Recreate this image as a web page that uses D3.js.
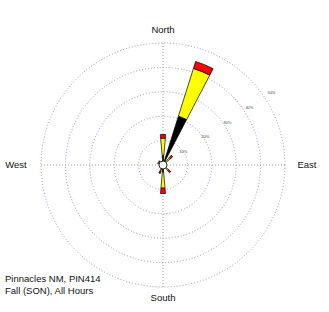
<!DOCTYPE html>
<html>
<head>
<meta charset="utf-8">
<script src="https://cdn.jsdelivr.net/npm/d3@7"></script>
<style>
  body { margin: 0; background: #fff; }
  text { font-family: Arial, "Liberation Sans", sans-serif; fill: #111; }
</style>
</head>
<body>
<div id="rose"></div>
<script>
// wind directions, clockwise from north
var directions = ["N","NNE","NE","ENE","E","ESE","SE","SSE","S","SSW","SW","WSW","W","WNW","NW","NNW"];

// frequency (%) of each speed class per direction
var slowClass = [4, 21, 1.5, 0.5, 0.3, 0.3, 1.5, 0.5, 3, 1.2, 0.5, 0.3, 0.3, 0.5, 0.8, 0.5];
var midClass  = [7, 20.5, 2.5, 0.5, 0.2, 0.3, 1.5, 0.5, 6.5, 1.5, 0.5, 0.2, 0.2, 1.5, 1.2, 0.5];
var fastClass = [1.5, 3, 1.2, 0.3, 0, 0, 1.2, 0.2, 2.2, 1, 0.2, 0, 0, 0.3, 0.3, 0.2];
var classColors = ["#000000", "#ffff00", "#ff0000"];

// ring labels
var ringTicks = [10, 20, 30, 40, 50];
var compassLabels = ["North", "East", "South", "West"];
var titleLines = ["Pinnacles NM, PIN414", "Fall (SON), All Hours"];

var width = 329, height = 312;
var cx = 163, cy = 165, outerR = 122;

var svg = d3.select("#rose").append("svg")
  .attr("width", width)
  .attr("height", height);

var g = svg.append("g")
  .attr("transform", "translate(" + cx + "," + cy + ")");

var r = d3.scaleLinear().domain([0, 50]).range([0, outerR]);

// axis cross
g.append("line").attr("x1", 0).attr("x2", 0).attr("y1", -outerR).attr("y2", outerR)
  .attr("stroke", "#9a9ab0").attr("stroke-dasharray", "1,2");
g.append("line").attr("y1", 0).attr("y2", 0).attr("x1", -outerR).attr("x2", outerR)
  .attr("stroke", "#9a9ab0").attr("stroke-dasharray", "1,2");

// rings
g.selectAll("circle.ring").data(ringTicks).enter().append("circle")
  .attr("class", "ring")
  .attr("r", function(d) { return r(d); })
  .attr("fill", "none")
  .attr("stroke", "#9898d8")
  .attr("stroke-dasharray", "1,2");

// ring labels along a diagonal
var labAngle = -34 * Math.PI / 180;
g.selectAll("text.tick").data(ringTicks).enter().append("text")
  .attr("class", "tick")
  .attr("x", function(d, i) { return (r(d) + i * 2.2) * Math.cos(labAngle); })
  .attr("y", function(d, i) { return (r(d) + i * 2.2) * Math.sin(labAngle) + 2; })
  .attr("text-anchor", "middle")
  .style("font-size", "4px")
  .style("fill", "#444")
  .text(function(d) { return d + "%"; });

// stack speed classes into petal segments
var segments = [];
directions.forEach(function(dir, i) {
  var vals = [slowClass[i], midClass[i], fastClass[i]];
  var base = 0;
  vals.forEach(function(v, k) {
    if (v > 0) segments.push({dir: i, from: base, to: base + v, k: k});
    base += v;
  });
});

var half = 5 * Math.PI / 180;
var arc = d3.arc()
  .innerRadius(function(d) { return r(d.from); })
  .outerRadius(function(d) { return r(d.to); })
  .startAngle(function(d) { return d.dir * Math.PI / 8 - half; })
  .endAngle(function(d) { return d.dir * Math.PI / 8 + half; });

g.selectAll("path.petal").data(segments).enter().append("path")
  .attr("class", "petal")
  .attr("d", arc)
  .attr("fill", function(d) { return classColors[d.k]; })
  .attr("stroke", "#000")
  .attr("stroke-width", 0.7);

// calms circle
g.append("circle").attr("r", 4)
  .attr("fill", "#fff").attr("stroke", "#000").attr("stroke-width", 0.8);

// compass labels
var compassPos = [[0, -132], [144, 3], [0, 136], [-147, 3]];
g.selectAll("text.compass").data(compassLabels).enter().append("text")
  .attr("class", "compass")
  .attr("x", function(d, i) { return compassPos[i][0]; })
  .attr("y", function(d, i) { return compassPos[i][1]; })
  .attr("text-anchor", "middle")
  .style("font-size", "9.5px")
  .text(function(d) { return d; });

// station title
svg.selectAll("text.title").data(titleLines).enter().append("text")
  .attr("class", "title")
  .attr("x", 5)
  .attr("y", function(d, i) { return 282 + i * 11.5; })
  .style("font-size", "9.5px")
  .text(function(d) { return d; });
</script>
</body>
</html>
